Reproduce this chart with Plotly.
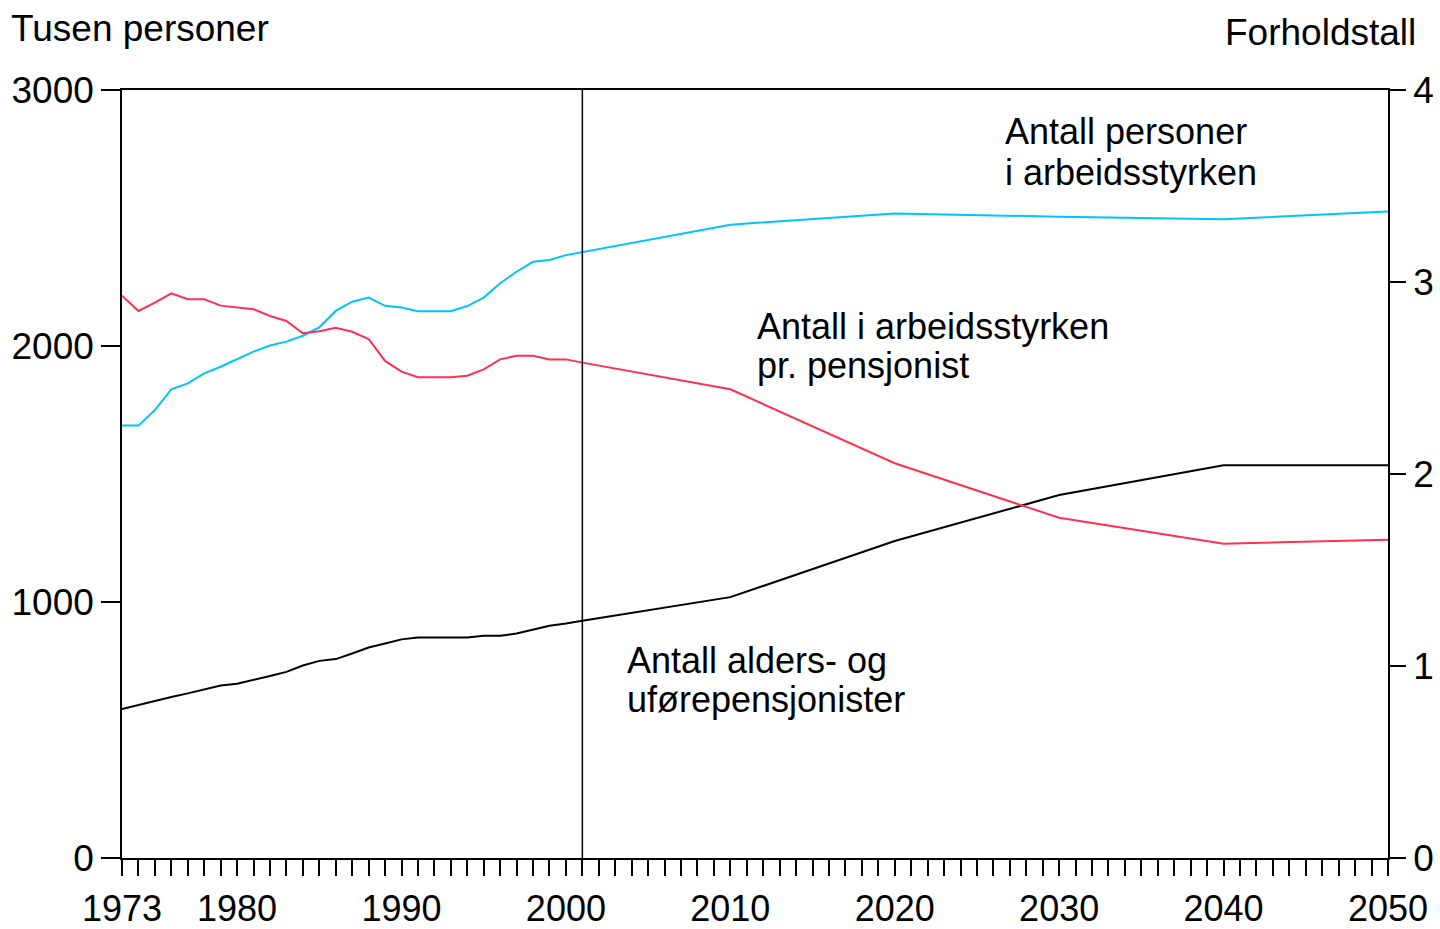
import plotly.graph_objects as go

#%% DATA

years = list(range(1973, 2002)) + [2010, 2020, 2030, 2040, 2050]

# Antall personer i arbeidsstyrken (tusen)
labour_force = [1689, 1689, 1750, 1831, 1854, 1893, 1919, 1949, 1978, 2002,
                2017, 2040, 2073, 2137, 2173, 2189, 2157, 2150, 2136, 2136,
                2136, 2156, 2189, 2245, 2290, 2329, 2336, 2355, 2367,
                2474, 2518, 2505, 2495, 2525]

# Antall alders- og uførepensjonister (tusen)
pensioners = [582, 598, 613, 629, 643, 659, 674, 681, 695, 711,
              727, 752, 770, 777, 799, 822, 838, 854, 861, 861,
              861, 861, 868, 868, 877, 893, 907, 916, 927,
              1019, 1238, 1418, 1534, 1534]

# Antall i arbeidsstyrken pr. pensjonist (forholdstall)
ratio = [2.929, 2.849, 2.892, 2.941, 2.910, 2.910, 2.877, 2.868, 2.858, 2.823,
         2.797, 2.733, 2.743, 2.762, 2.741, 2.703, 2.589, 2.533, 2.504, 2.504,
         2.504, 2.512, 2.545, 2.597, 2.616, 2.616, 2.597, 2.597, 2.580,
         2.441, 2.056, 1.772, 1.637, 1.658]

tick_years = list(range(1973, 2051))
labelled_years = [1973, 1980, 1990, 2000, 2010, 2020, 2030, 2040, 2050]
left_ticks = [0, 1000, 2000, 3000]
right_ticks = [0, 1, 2, 3, 4]

#%% PLOT

FONT = 'Arial, "Liberation Sans", sans-serif'
SIZE = 37

fig = go.Figure()

fig.add_trace(go.Scatter(
    x=years, y=labour_force, mode='lines',
    line=dict(color='#00c3ff', width=2),
    name='Antall personer i arbeidsstyrken',
))
fig.add_trace(go.Scatter(
    x=years, y=pensioners, mode='lines',
    line=dict(color='black', width=2),
    name='Antall alders- og uførepensjonister',
))
fig.add_trace(go.Scatter(
    x=years, y=ratio, mode='lines', yaxis='y2',
    line=dict(color='#ff3050', width=2),
    name='Antall i arbeidsstyrken pr. pensjonist',
))

# vertical line marking start of projections
fig.add_shape(type='line', xref='x', yref='paper',
              x0=2001, x1=2001, y0=0, y1=1,
              line=dict(color='black', width=1.5))

def label(text, x, y, xref='x', yref='y', xanchor='left', size=36):
    fig.add_annotation(text=text, x=x, y=y, xref=xref, yref=yref,
                       xanchor=xanchor, yanchor='middle', showarrow=False,
                       font=dict(size=size, color='black', family=FONT))

label('Antall personer', 2026.6, 2836)
label('i arbeidsstyrken', 2026.6, 2676)
label('Antall i arbeidsstyrken', 2011.5, 2078)
label('pr. pensjonist', 2011.5, 1922)
label('Antall alders- og', 2003.6, 773)
label('uførepensjonister', 2003.6, 621)
label('Tusen personer', -0.0893, 1.0807, xref='paper', yref='paper', size=SIZE)
label('Forholdstall', 1.0235, 1.0755, xref='paper', yref='paper',
      xanchor='right', size=SIZE)

axis_common = dict(
    showgrid=False, zeroline=False, showline=True, automargin=False,
    linecolor='black', linewidth=1.5,
    ticks='outside', tickcolor='black', tickwidth=1.5,
    tickfont=dict(size=SIZE, color='black', family=FONT),
)

fig.update_layout(
    width=1440, height=929,
    template='plotly_white',
    plot_bgcolor='white', paper_bgcolor='white',
    showlegend=False,
    margin=dict(l=122, r=52, t=90, b=71),
    font=dict(family=FONT, size=SIZE, color='black'),
    xaxis=dict(
        **axis_common,
        range=[1973, 2050],
        tickvals=tick_years,
        ticktext=[str(y) if y in labelled_years else '' for y in tick_years],
        ticklen=16, mirror=True, ticklabelstandoff=2,
    ),
    yaxis=dict(
        **axis_common,
        range=[0, 3000], tickvals=left_ticks, ticklen=19,
    ),
    yaxis2=dict(
        **axis_common,
        range=[0, 4], tickvals=right_ticks, ticklen=16,
        overlaying='y', side='right',
    ),
)
fig.update_xaxes(tickfont_size=36)

# drop the default page margin so the figure sits at the window's corner
fig.write_html('out.html', config={'displayModeBar': False},
               post_script="document.body.style.margin='0';")
